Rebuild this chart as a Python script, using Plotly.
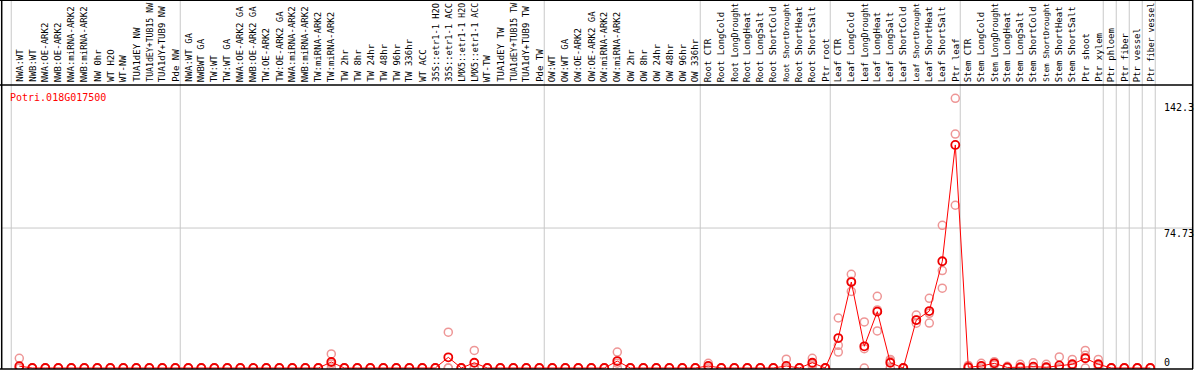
import plotly.graph_objects as go

gene = "Potri.018G017500"

categories = [
    "NWA:WT", "NWB:WT", "NWA:OE-ARK2", "NWB:OE-ARK2", "NWA:miRNA-ARK2", "NWB:miRNA-ARK2",
    "NW 0hr", "WT H2O", "WT-NW", "TUA1dEY NW", "TUA1dEY+TUB15 NW", "TUA1dY+TUB9 NW", "Pde NW",
    "NWA:WT GA", "NWBWT GA", "TW:WT", "TW:WT GA", "NWA:OE-ARK2 GA", "NWB:OE-ARK2 GA",
    "TW:OE-ARK2", "TW:OE-ARK2 GA", "NWA:miRNA-ARK2", "NWB:miRNA-ARK2", "TW:miRNA-ARK2",
    "TW:miRNA-ARK2", "TW 2hr", "TW 8hr", "TW 24hr", "TW 48hr", "TW 96hr", "TW 336hr",
    "WT ACC", "35S::etr1-1 H2O", "35S::etr1-1 ACC", "LMX5::etr1-1 H2O", "LMX5::etr1-1 ACC",
    "WT-TW", "TUA1dEY TW", "TUA1dEY+TUB15 TW", "TUA1dY+TUB9 TW", "Pde TW",
    "OW:WT", "OW:WT GA", "OW:OE-ARK2", "OW:OE-ARK2 GA", "OW:miRNA-ARK2", "OW:miRNA-ARK2",
    "OW 2hr", "OW 8hr", "OW 24hr", "OW 48hr", "OW 96hr", "OW 336hr",
    "Root CTR", "Root LongCold", "Root LongDrought", "Root LongHeat", "Root LongSalt",
    "Root ShortCold", "Root ShortDrought", "Root ShortHeat", "Root ShortSalt", "Ptr root",
    "Leaf CTR", "Leaf LongCold", "Leaf LongDrought", "Leaf LongHeat", "Leaf LongSalt",
    "Leaf ShortCold", "Leaf ShortDrought", "Leaf ShortHeat", "Leaf ShortSalt", "Ptr leaf",
    "Stem CTR", "Stem LongCold", "Stem LongDrought", "Stem LongHeat", "Stem LongSalt",
    "Stem ShortCold", "Stem ShortDrought", "Stem ShortHeat", "Stem ShortSalt", "Ptr shoot",
    "Ptr xylem", "Ptr phloem", "Ptr fiber", "Ptr vessel", "Ptr fiber vessel",
]

# mean expression per sample
mean_vals = [
    1.0, 0, 0, 0, 0, 0, 0, 0, 0, 0, 0, 0, 0,
    0, 0, 0, 0, 0, 0, 0, 0, 0, 0, 0, 3.2, 0, 0, 0, 0, 0, 0,
    0, 0, 5.7, 0, 2.8, 0, 0, 0, 0, 0,
    0, 0, 0, 0, 0, 3.7, 0, 0, 0, 0, 0, 0,
    1.1, 0, 0, 0, 0, 0, 1.1, 0, 2.8, 0,
    16.0, 45.9, 11.6, 30.1, 2.8, 0, 25.6, 30.4, 57.0, 119.1,
    0.4, 1.1, 2.5, 0.3, 0.4, 0.7, 0.4, 1.4, 2.0, 5.2,
    2.0, 0, 0, 0, 0,
]

# replicate values
rep1 = [
    5.2, 0, 0, 0, 0, 0, 0, 0, 0, 0, 0, 0, 0,
    0, 0, 0, 0, 0, 0, 0, 0, 0, 0, 0, 7.5, 0, 0, 0, 0, 0, 0,
    0, 0, 19.1, 0, 9.4, 0, 0, 0, 0, 0,
    0, 0, 0, 0, 0, 8.5, 0, 0, 0, 0, 0, 0,
    2.5, 0, 0, 0, 0, 0, 4.7, 0, 5.2, 0,
    26.7, 50.0, 24.6, 38.3, 4.6, 0, 28.3, 37.2, 76.2, 144.0,
    1.4, 2.5, 3.4, 0.9, 2.0, 2.8, 2.0, 5.9, 4.6, 9.4,
    4.6, 0, 0, 0, 0,
]
rep2 = [
    0, 0, 0, 0, 0, 0, 0, 0, 0, 0, 0, 0, 0,
    0, 0, 0, 0, 0, 0, 0, 0, 0, 0, 0, 2.1, 0, 0, 0, 0, 0, 0,
    0, 0, 0, 0, 0, 0, 0, 0, 0, 0,
    0, 0, 0, 0, 0, 2.6, 0, 0, 0, 0, 0, 0,
    0.8, 0, 0, 0, 0, 0, 0, 0, 2.1, 0,
    12.1, 40.9, 10.3, 19.8, 3.7, 0, 23.9, 24.0, 52.0, 124.9,
    0, 0.8, 2.5, 0, 0, 0, 0, 0, 1.4, 6.8,
    1.4, 0, 0, 0, 0,
]
rep3 = [
    0, 0, 0, 0, 0, 0, 0, 0, 0, 0, 0, 0, 0,
    0, 0, 0, 0, 0, 0, 0, 0, 0, 0, 0, 0, 0, 0, 0, 0, 0, 0,
    0, 0, 0, 0, 0, 0, 0, 0, 0, 0,
    0, 0, 0, 0, 0, 0, 0, 0, 0, 0, 0, 0,
    0, 0, 0, 0, 0, 0, 0, 0, 1.1, 0,
    8.5, 46.3, 0, 31.0, 0.2, 0, 25.6, 29.2, 42.6, 86.9,
    0, 0, 1.6, 0, 0, 0, 0, 0, 0, 0,
    0, 0, 0, 0, 0,
]

# last sample index of each group (separators are drawn after these)
group_last = [-1, 12, 40, 52, 62, 72, 83, 84, 85, 86, 87]

y_tick_labels = ["142.3", "74.73", "0"]
y_tick_pos_px = [107, 233, 362]

W, H = 1194, 370
ML, MR, MT, MB = 2, 1, 85, 1
PW, PH = W - ML - MR, H - MT - MB

x = list(range(len(categories)))
fig = go.Figure()

pink = "rgb(238,150,150)"
for reps in (rep1, rep2, rep3):
    fig.add_trace(go.Scatter(
        x=x, y=reps, mode="markers",
        marker=dict(symbol="circle-open", size=8, color=pink, line=dict(width=1.5, color=pink)),
        showlegend=False, hoverinfo="skip"))

fig.add_trace(go.Scatter(
    x=x, y=mean_vals, mode="lines+markers",
    line=dict(color="#ff0000", width=1),
    marker=dict(symbol="circle-open", size=8, color="#ee0000", line=dict(width=1.8, color="#ee0000")),
    showlegend=False))

def py(px):
    return (H - MB - px) / PH

def pxx(px):
    return (px - ML) / PW

shapes = []
for k in group_last:
    xs = k + 0.5 - 0.12
    shapes.append(dict(type="line", xref="x", yref="paper", x0=xs, x1=xs, y0=0, y1=py(0),
                       line=dict(color="#c8c8c8", width=1), layer="below"))
# horizontal gridline
shapes.append(dict(type="line", xref="paper", yref="y", x0=0, x1=1, y0=74.73, y1=74.73,
                   line=dict(color="#c8c8c8", width=1), layer="below"))
# borders
shapes += [
    dict(type="line", xref="paper", yref="paper", x0=pxx(0), x1=1, y0=py(0.5), y1=py(0.5),
         line=dict(color="black", width=1)),
    dict(type="line", xref="paper", yref="paper", x0=pxx(0), x1=1, y0=1, y1=1,
         line=dict(color="black", width=1.5)),
    dict(type="line", xref="paper", yref="paper", x0=pxx(0), x1=1, y0=0, y1=0,
         line=dict(color="black", width=1.5)),
    dict(type="line", xref="paper", yref="paper", x0=pxx(1.7), x1=pxx(1.7), y0=0, y1=py(0),
         line=dict(color="black", width=1.5)),
    dict(type="line", xref="paper", yref="paper", x0=pxx(1192.7), x1=pxx(1192.7), y0=0, y1=py(0),
         line=dict(color="black", width=1.5)),
]

annotations = [dict(text=gene, xref="paper", yref="paper", x=pxx(8), y=py(97),
                    xanchor="left", yanchor="middle", showarrow=False,
                    font=dict(family="DejaVu Sans Mono", size=10, color="#ff0000"))]
for lab, p in zip(y_tick_labels, y_tick_pos_px):
    annotations.append(dict(text=lab, xref="paper", yref="paper", x=pxx(1162), y=py(p),
                            xanchor="left", yanchor="middle", showarrow=False,
                            font=dict(family="DejaVu Sans Mono", size=10, color="black")))

# category labels in the header, rotated; long ones shrunk to fit the header height
for i, lab in enumerate(categories):
    fs = min(9.0, 79.0 / (0.602 * len(lab)))
    annotations.append(dict(text=lab, xref="x", yref="paper", x=i, y=py(83),
                            xanchor="center", yanchor="bottom", textangle=-90,
                            showarrow=False, borderpad=0,
                            font=dict(family="DejaVu Sans Mono", size=fs, color="black")))

fig.update_layout(
    width=W, height=H,
    margin=dict(l=ML, r=MR, t=MT, b=MB, pad=0),
    paper_bgcolor="white", plot_bgcolor="white",
    xaxis=dict(range=[-1.331, -1.331 + PW / 13.0], showgrid=False, showticklabels=False,
               zeroline=False, showline=False, ticks="", automargin=False, fixedrange=True),
    yaxis=dict(range=[-0.53, -0.53 + PH / 1.873], showgrid=False, zeroline=False,
               showline=False, showticklabels=False, ticks="", fixedrange=True),
    shapes=shapes, annotations=annotations,
)

fig.write_html("out.html", config={"displayModeBar": False},
               post_script="document.body.style.margin='0';document.body.style.padding='0';")
